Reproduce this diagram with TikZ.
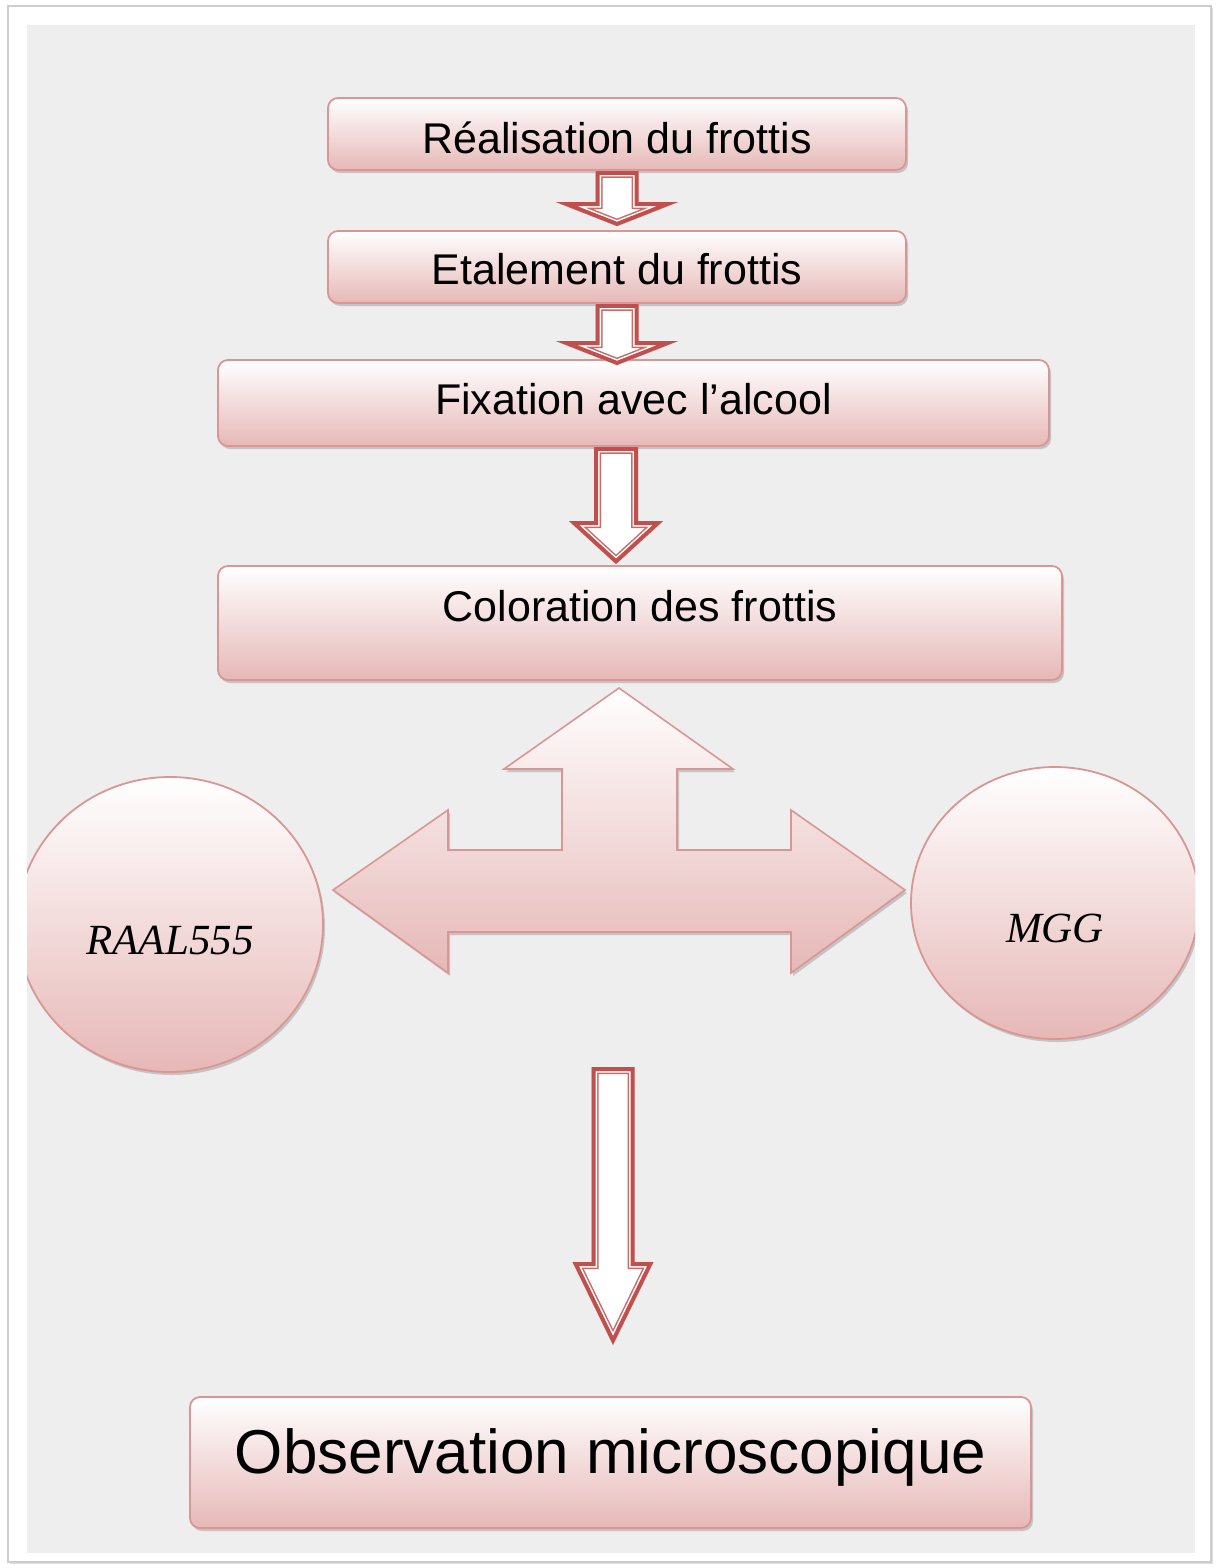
\documentclass[tikz,border=0pt]{standalone}
\usepackage{fontspec}
\setmainfont{Liberation Serif}
\setsansfont{Liberation Sans}
\usetikzlibrary{shadows,calc,shapes.geometric}
\definecolor{bg}{HTML}{EEEEEE}
\definecolor{pinkline}{HTML}{D99694}
\definecolor{pinkbot}{HTML}{E6B8B7}
\definecolor{arrowred}{HTML}{C0504D}
\tikzset{
  softshadow/.style={drop shadow={opacity=0.3, shadow xshift=1pt, shadow yshift=-1.5pt, fill=black!60}},
  box/.style={draw=pinkline, line width=0.9pt, rounded corners=5pt, top color=white, bottom color=pinkbot,
    softshadow, inner sep=0pt, text=black, font=\sffamily\fontsize{21.5}{24}\selectfont},
  disc/.style={ellipse, draw=pinkline, line width=0.9pt, top color=white, bottom color=pinkbot,
    softshadow, inner sep=0pt, text=black, font=\rmfamily\itshape\fontsize{21.5}{24}\selectfont},
  blockshape/.style={draw=pinkline, line width=0.8pt, line join=miter, top color=white, bottom color=pinkbot, softshadow}
}
\newcommand\hollowarrow[5]{%
  \def\hpath{($(#1)+(-#3,0)$) -- ($(#2)+(-#3,-#5)$) -- ($(#2)+(-#4,-#5)$) -- (#2) -- ($(#2)+(#4,-#5)$) -- ($(#2)+(#3,-#5)$) -- ($(#1)+(#3,0)$) -- cycle}%
  \begin{scope}
    \clip \hpath;
    \fill[white] \hpath;
    \draw[arrowred!85, line width=7pt, line join=miter] \hpath;
    \draw[white, line width=5.5pt, line join=miter] \hpath;
    \draw[arrowred, line width=4pt, line join=miter] \hpath;
  \end{scope}}
\begin{document}
\begin{tikzpicture}[x=0.5pt, y=-0.5pt]
\useasboundingbox (0,0) rectangle (1219,1568);
\fill[white, drop shadow={opacity=0.25, shadow xshift=0.8pt, shadow yshift=-0.8pt}] (8,6) rectangle (1211,1562);
\draw[black!20, line width=1.2pt] (8,6) rectangle (1211,1562);
\fill[bg] (27,25) rectangle (1195,1553);
\begin{scope}
\clip (27,25) rectangle (1195,1553);
% boxes
\node[box, minimum width=289pt, minimum height=36pt, text height=20pt, text depth=0.6pt] (b1) at (617,134) {Réalisation du frottis};
\node[box, minimum width=289pt, minimum height=36pt, text height=18pt, text depth=0.6pt] (b2) at (617,267) {Etalement du frottis};
\node[box, minimum width=415.5pt, minimum height=43pt, text height=15pt, text depth=3.6pt] (b3) at (633.5,403) {Fixation avec l’alcool};
\node[box, minimum width=422pt, minimum height=57pt, text height=15pt, text depth=16.6pt] (b4) at (640,623) {Coloration des frottis};
\node[box, minimum width=420.5pt, minimum height=65.5pt, text height=20.4pt, text depth=9pt,
  font=\sffamily\fontsize{31}{34}\selectfont] (b5) at (610.5,1462.5) {Observation microscopique};
% discs
\node[disc, minimum width=153pt, minimum height=147.5pt, text height=32pt, text depth=2pt] (raal) at (170,924.5) {RAAL555};
\node[disc, minimum width=144pt, minimum height=136pt, text height=41pt, text depth=2pt] (mgg) at (1055,903) {MGG};
% three-way block arrow
\path[blockshape] (619,688) -- (733,769) -- (677,769) -- (677,850) -- (791,850) -- (791,810)
  -- (905,890) -- (791,973) -- (791,932) -- (448,932) -- (448,973) -- (333,890)
  -- (448,810) -- (448,850) -- (562,850) -- (562,769) -- (504,769) -- cycle;
% hollow arrows
\coordinate (a1s) at (b1.south);
\coordinate (a1e) at ($(b1.south |- b2.north)+(0,-4)$);
\coordinate (a2s) at (b2.south);
\coordinate (a2e) at ($(b2.south |- b3.north)+(0,6)$);
\coordinate (a3s) at ($(b3.south)+(-17.5,0)$);
\coordinate (a3e) at ($(a3s |- b4.north)+(0,-1)$);
\coordinate (a4s) at (613,1067);
\coordinate (a4e) at (613,1345);
\hollowarrow{a1s}{a1e}{21.5}{61}{24}
\hollowarrow{a2s}{a2e}{21.5}{61}{24}
\hollowarrow{a3s}{a3e}{22}{47}{43}
\hollowarrow{a4s}{a4e}{21.5}{40.5}{83}
\end{scope}
\end{tikzpicture}
\end{document}
